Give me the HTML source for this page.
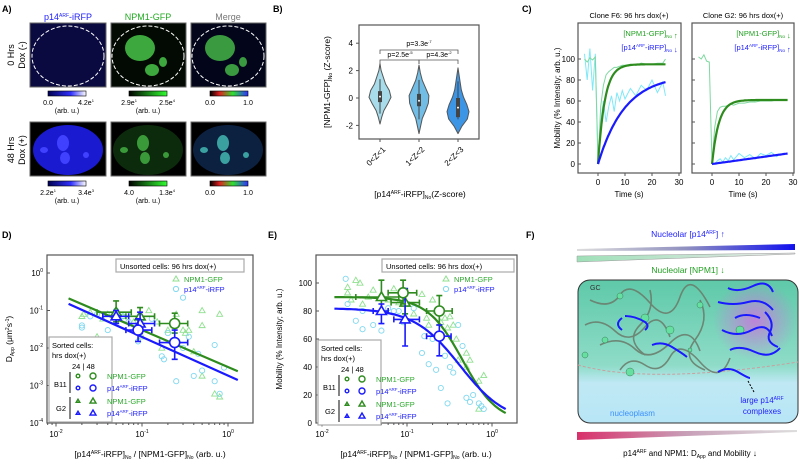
<!DOCTYPE html>
<html><head><meta charset="utf-8"><style>
body{margin:0;background:#fff}
svg{display:block;font-family:"Liberation Sans",Arial,sans-serif}
</style></head><body>
<svg id="fig" width="800" height="464" viewBox="0 0 800 464" xmlns="http://www.w3.org/2000/svg">
<defs>
<linearGradient id="gBlue" x1="0" x2="1"><stop offset="0" stop-color="#000050"/><stop offset="0.6" stop-color="#3030ff"/><stop offset="1" stop-color="#ffffff"/></linearGradient>
<linearGradient id="gGreen" x1="0" x2="1"><stop offset="0" stop-color="#000"/><stop offset="1" stop-color="#30ff30"/></linearGradient>
<linearGradient id="gMerge" x1="0" x2="1"><stop offset="0" stop-color="#000"/><stop offset="0.25" stop-color="#e02020"/><stop offset="0.6" stop-color="#30e030"/><stop offset="1" stop-color="#3030ff"/></linearGradient>
<linearGradient id="gTop" x1="0" x2="1"><stop offset="0" stop-color="#ddd"/><stop offset="0.5" stop-color="#9090c0"/><stop offset="1" stop-color="#1010ee"/></linearGradient>
<linearGradient id="gNpm" x1="0" x2="1"><stop offset="0" stop-color="#9fe0b8"/><stop offset="1" stop-color="#e8e8e8"/></linearGradient>
<linearGradient id="gBot" x1="0" x2="1"><stop offset="0" stop-color="#d8306a"/><stop offset="0.5" stop-color="#c8a0b8"/><stop offset="1" stop-color="#ddd"/></linearGradient>
<linearGradient id="gCell" x1="0" x2="0" y1="0" y2="1"><stop offset="0" stop-color="#5ec9a8"/><stop offset="0.6" stop-color="#8fdcc8"/><stop offset="0.72" stop-color="#bfe8f4"/><stop offset="1" stop-color="#b8e6f6"/></linearGradient>
<radialGradient id="gPink"><stop offset="0" stop-color="#d070e0" stop-opacity="0.8"/><stop offset="1" stop-color="#d070e0" stop-opacity="0"/></radialGradient>
</defs>

<!-- PANEL A -->
<g font-size="8">
<text x="2" y="12" font-weight="bold" font-size="9">A)</text>
<text x="68" y="20" text-anchor="middle" fill="#2222ff" font-size="9">p14<tspan font-size="5" dy="-3">ARF</tspan><tspan dy="3">-iRFP</tspan></text>
<text x="148" y="20" text-anchor="middle" fill="#22aa22" font-size="9">NPM1-GFP</text>
<text x="228" y="20" text-anchor="middle" fill="#777" font-size="9">Merge</text>
<text transform="translate(14,55) rotate(-90)" text-anchor="middle" font-size="9">0 Hrs</text>
<text transform="translate(25,55) rotate(-90)" text-anchor="middle" font-size="9">Dox (-)</text>
<text transform="translate(14,150) rotate(-90)" text-anchor="middle" font-size="9">48 Hrs</text>
<text transform="translate(25,150) rotate(-90)" text-anchor="middle" font-size="9">Dox (+)</text>
<rect x="30" y="23" width="76" height="64" fill="#0a0a40" stroke="#666"/>
<rect x="111" y="23" width="75" height="64" fill="#030a03" stroke="#666"/>
<g fill="#3da83d"><ellipse cx="140" cy="48" rx="15" ry="13"/><ellipse cx="152" cy="70" rx="7" ry="6"/><ellipse cx="163" cy="62" rx="4" ry="5"/></g>
<rect x="191" y="23" width="75" height="64" fill="#03061a" stroke="#666"/>
<g fill="#3a9a40"><ellipse cx="220" cy="48" rx="15" ry="13"/><ellipse cx="232" cy="70" rx="7" ry="6"/><ellipse cx="243" cy="62" rx="4" ry="5"/></g>
<g fill="none" stroke="#fff" stroke-dasharray="4,2" stroke-width="1">
<ellipse cx="68" cy="56" rx="36" ry="30"/><ellipse cx="148" cy="56" rx="36" ry="30"/><ellipse cx="228" cy="56" rx="36" ry="30"/>
<ellipse cx="68" cy="150" rx="36" ry="26"/><ellipse cx="148" cy="150" rx="36" ry="26"/><ellipse cx="228" cy="150" rx="36" ry="26"/></g>
<rect x="30" y="122" width="76" height="54" fill="#000" stroke="#666"/>
<ellipse cx="68" cy="150" rx="35" ry="25" fill="#1a1ad0"/>
<g fill="#4040ff"><ellipse cx="63" cy="143" rx="6" ry="8"/><ellipse cx="44" cy="150" rx="4" ry="3"/><ellipse cx="65" cy="158" rx="5" ry="6"/><ellipse cx="86" cy="155" rx="3" ry="3"/></g>
<rect x="111" y="122" width="75" height="54" fill="#000" stroke="#666"/>
<ellipse cx="148" cy="150" rx="35" ry="25" fill="#0c2a0c"/>
<g fill="#3a9a3a"><ellipse cx="143" cy="143" rx="6" ry="8"/><ellipse cx="124" cy="150" rx="4" ry="3"/><ellipse cx="145" cy="158" rx="5" ry="6"/><ellipse cx="166" cy="155" rx="3" ry="3"/></g>
<rect x="191" y="122" width="75" height="54" fill="#000" stroke="#666"/>
<ellipse cx="228" cy="150" rx="35" ry="25" fill="#0c2040"/>
<g fill="#3aa0a0"><ellipse cx="223" cy="143" rx="6" ry="8"/><ellipse cx="204" cy="150" rx="4" ry="3"/><ellipse cx="225" cy="158" rx="5" ry="6"/><ellipse cx="246" cy="155" rx="3" ry="3"/></g>
<g stroke="#000" stroke-width="0.6">
<rect x="48" y="91" width="38" height="5" fill="url(#gBlue)"/>
<rect x="129" y="91" width="38" height="5" fill="url(#gGreen)"/>
<rect x="210" y="91" width="38" height="5" fill="url(#gMerge)"/>
<rect x="48" y="181" width="38" height="5" fill="url(#gBlue)"/>
<rect x="129" y="181" width="38" height="5" fill="url(#gGreen)"/>
<rect x="210" y="181" width="38" height="5" fill="url(#gMerge)"/></g>
<g font-size="7" text-anchor="middle">
<text x="48" y="105">0.0</text><text x="86" y="105">4.2e<tspan font-size="4" dy="-3">1</tspan></text><text x="67" y="113">(arb. u.)</text>
<text x="129" y="105">2.9e<tspan font-size="4" dy="-3">1</tspan></text><text x="167" y="105">2.5e<tspan font-size="4" dy="-3">4</tspan></text><text x="148" y="113">(arb. u.)</text>
<text x="210" y="105">0.0</text><text x="248" y="105">1.0</text>
<text x="48" y="195">2.2e<tspan font-size="4" dy="-3">1</tspan></text><text x="86" y="195">3.4e<tspan font-size="4" dy="-3">3</tspan></text><text x="67" y="203">(arb. u.)</text>
<text x="129" y="195">4.0</text><text x="167" y="195">1.3e<tspan font-size="4" dy="-3">4</tspan></text><text x="148" y="203">(arb. u.)</text>
<text x="210" y="195">0.0</text><text x="248" y="195">1.0</text></g>
</g>

<!-- PANEL B -->
<g font-size="8">
<text x="273" y="12" font-weight="bold" font-size="9">B)</text>
<rect x="359" y="25" width="120" height="114" fill="none" stroke="#555" stroke-width="1.2"/>
<g id="bTicks"></g><g id="bViolins"></g>
<text transform="translate(330,82) rotate(-90)" text-anchor="middle" font-size="8.5">[NPM1-GFP]<tspan font-size="5" dy="2">No</tspan><tspan dy="-2"> (Z-score)</tspan></text>
<text x="420" y="197" text-anchor="middle" font-size="8.5">[p14<tspan font-size="5" dy="-3">ARF</tspan><tspan dy="3">-iRFP]</tspan><tspan font-size="5" dy="2">No</tspan><tspan dy="-2">(Z-score)</tspan></text>
<g stroke="#555" fill="none" stroke-width="0.8">
<path d="M380,54 V50 H458 V54"/><path d="M380,64 V60 H419 V64"/><path d="M419,64 V60 H458 V64"/></g>
<g font-size="7" text-anchor="middle"><text x="419" y="46">p=3.3e<tspan font-size="4" dy="-3">-7</tspan></text><text x="400" y="57">p=2.5e<tspan font-size="4" dy="-3">-5</tspan></text><text x="439" y="57">p=4.3e<tspan font-size="4" dy="-3">-2</tspan></text></g>
</g>

<!-- PANEL C -->
<g font-size="8">
<text x="522" y="12" font-weight="bold" font-size="9">C)</text>
<text x="629" y="18" text-anchor="middle" font-size="7.5">Clone F6: 96 hrs dox(+)</text>
<text x="743" y="18" text-anchor="middle" font-size="7.5">Clone G2: 96 hrs dox(+)</text>
<rect x="578" y="23" width="103" height="150" fill="none" stroke="#555" stroke-width="1.2"/>
<rect x="692" y="23" width="102" height="150" fill="none" stroke="#555" stroke-width="1.2"/>
<g id="cMarks"></g>
<text transform="translate(560,98) rotate(-90)" text-anchor="middle" font-size="8">Mobility (% Intensity; arb. u.)</text>
<text x="629" y="197" text-anchor="middle" font-size="8">Time (s)</text>
<text x="743" y="197" text-anchor="middle" font-size="8">Time (s)</text>
<g font-size="7.5"><text x="672" y="36" text-anchor="end" fill="#22a022">[NPM1-GFP]<tspan font-size="4.5" dy="2">No</tspan></text><text x="674" y="38" fill="#22a022">↑</text>
<text x="672" y="50" text-anchor="end" fill="#2222ff">[p14<tspan font-size="4.5" dy="-3">ARF</tspan><tspan dy="3">-iRFP]</tspan><tspan font-size="4.5" dy="2">No</tspan></text><text x="674" y="52" fill="#2222ff">↓</text>
<text x="785" y="36" text-anchor="end" fill="#22a022">[NPM1-GFP]<tspan font-size="4.5" dy="2">No</tspan></text><text x="787" y="38" fill="#22a022">↓</text>
<text x="785" y="50" text-anchor="end" fill="#2222ff">[p14<tspan font-size="4.5" dy="-3">ARF</tspan><tspan dy="3">-iRFP]</tspan><tspan font-size="4.5" dy="2">No</tspan></text><text x="787" y="52" fill="#2222ff">↑</text></g>
</g>

<!-- PANEL D & E -->
<g font-size="8">
<text x="2" y="238" font-weight="bold" font-size="9">D)</text>
<rect x="47" y="255" width="206" height="168" fill="none" stroke="#555" stroke-width="1.2"/>
<g id="dMarks"></g>
<text transform="translate(12,339) rotate(-90)" text-anchor="middle" font-size="8.5">D<tspan font-size="5" dy="2">App</tspan><tspan dy="-2"> (μm</tspan><tspan font-size="5" dy="-3">2</tspan><tspan dy="3">s</tspan><tspan font-size="5" dy="-3">-1</tspan><tspan dy="3">)</tspan></text>
<text x="150" y="457" text-anchor="middle" font-size="8.5">[p14<tspan font-size="5" dy="-3">ARF</tspan><tspan dy="3">-iRFP]</tspan><tspan font-size="5" dy="2">No</tspan><tspan dy="-2"> / [NPM1-GFP]</tspan><tspan font-size="5" dy="2">No</tspan><tspan dy="-2"> (arb. u.)</tspan></text>
</g>
<g font-size="8">
<text x="268" y="238" font-weight="bold" font-size="9">E)</text>
<rect x="316" y="255" width="201" height="168" fill="none" stroke="#555" stroke-width="1.2"/>
<g id="eMarks"></g>
<text transform="translate(282,339) rotate(-90)" text-anchor="middle" font-size="8">Mobility (% Intensity; arb. u.)</text>
<text x="416" y="457" text-anchor="middle" font-size="8.5">[p14<tspan font-size="5" dy="-3">ARF</tspan><tspan dy="3">-iRFP]</tspan><tspan font-size="5" dy="2">No</tspan><tspan dy="-2"> / [NPM1-GFP]</tspan><tspan font-size="5" dy="2">No</tspan><tspan dy="-2"> (arb. u.)</tspan></text>
</g>

<!-- PANEL F -->
<g font-size="8">
<text x="526" y="238" font-weight="bold" font-size="9">F)</text>
<text x="688" y="237" text-anchor="middle" fill="#2222ff" font-size="8.5">Nucleolar [p14<tspan font-size="5" dy="-3">ARF</tspan><tspan dy="3">] ↑</tspan></text>
<polygon points="577,249 795,244 795,250 577,251" fill="url(#gTop)"/>
<polygon points="577,256 795,253 795,254 577,262" fill="url(#gNpm)" stroke="#999" stroke-width="0.5"/>
<text x="688" y="273" text-anchor="middle" fill="#22a022" font-size="8.5">Nucleolar [NPM1] ↓</text>
<rect x="578" y="280" width="220" height="143" rx="12" fill="url(#gCell)" stroke="#333" stroke-width="1"/>
<ellipse cx="755" cy="320" rx="42" ry="40" fill="url(#gPink)"/>
<path d="M578,365 Q650,385 798,362" stroke="#c9a0a0" stroke-dasharray="3,2" fill="none"/>
<g stroke="#6a7a6a" stroke-width="1.6" fill="none" opacity="0.85">
<path d="M590,300 q20,10 30,-5 t30,8 t30,-6 t30,10"/><path d="M585,325 q15,-8 30,6 t30,-4 t25,10"/><path d="M600,345 q20,-10 35,4 t35,-6 t30,8"/><path d="M620,370 q10,-15 25,-5 t25,-8 t30,5 t30,-4"/><path d="M700,300 q10,20 -5,40 t10,30"/><path d="M650,290 q5,20 -10,35 t5,30"/></g>
<g fill="#66e0a0" stroke="#3a7a5a" stroke-width="0.5"><circle cx="620" cy="296" r="3"/><circle cx="645" cy="318" r="4"/><circle cx="605" cy="340" r="3"/><circle cx="670" cy="330" r="4"/><circle cx="630" cy="372" r="4"/><circle cx="700" cy="305" r="3"/><circle cx="740" cy="330" r="4"/><circle cx="585" cy="355" r="3"/><circle cx="690" cy="350" r="2"/></g>
<g stroke="#1a1aff" stroke-width="2" fill="none">
<path d="M622,318 q-8,6 0,12 M625,316 q10,0 20,6 q5,4 0,8"/><path d="M652,345 q10,-4 20,2 t15,10"/>
<path d="M728,288 q10,5 25,-2 t20,6"/><path d="M718,302 q15,4 30,0 t25,8"/><path d="M735,318 q10,-6 25,0"/><path d="M722,330 q15,8 30,0 t20,6"/><path d="M730,350 q10,-5 25,2 t25,-4"/><path d="M718,372 q10,-6 20,0 t12,6"/><path d="M765,312 q10,10 5,20 t8,15"/></g>
<line x1="754" y1="392" x2="748" y2="381" stroke="#000" stroke-dasharray="2,1.5"/>
<text x="590" y="290" fill="#333" font-size="7">GC</text>
<text x="610" y="416" fill="#3a90ff" font-size="8">nucleoplasm</text>
<text x="762" y="403" text-anchor="middle" fill="#2222ff" font-size="8">large p14<tspan font-size="5" dy="-3">ARF</tspan></text>
<text x="762" y="414" text-anchor="middle" fill="#2222ff" font-size="8">complexes</text>
<polygon points="577,432 797,430 797,432 577,440" fill="url(#gBot)"/>
<text x="690" y="456" text-anchor="middle" font-size="8">p14<tspan font-size="5" dy="-3">ARF</tspan><tspan dy="3"> and NPM1: D</tspan><tspan font-size="5" dy="2">App</tspan><tspan dy="-2"> and Mobility ↓</tspan></text>
</g>
</svg>
<script>
// ---------- DATA ----------
const bCategories = ["0<Z<1","1<Z<2","2<Z<3"];
const bMedians = [0.1, -0.2, -0.7];
const bQ1 = [-0.3, -0.6, -1.4];
const bQ3 = [0.5, 0.3, 0.0];
const bMin = [-1.9, -2.6, -2.6];
const bMax = [2.5, 2.4, 2.2];
const bYTicks = [4,2,0,-2];
const bDens1 = [0,0.15,0.35,0.7,1.0,0.85,0.5,0.3,0.1,0];
const bDens2 = [0,0.15,0.3,0.6,0.85,0.9,0.6,0.3,0.12,0];
const bDens3 = [0,0.35,0.85,1.0,0.8,0.5,0.3,0.2,0.1,0];
const cTimeRaw = [-5,-4,-3,-2,-1,0,1,2,3,4,5,6,7,8,9,10,12,14,16,18,20,22,24,25];
const cF6GreenRaw = [100,97,101,99,102,0,55,75,85,88,90,92,92,93,94,94,95,94,96,95,95,96,96,100];
const cF6CyanRaw = [105,80,110,70,105,5,40,60,40,55,65,50,68,60,70,62,72,65,75,70,80,68,78,65];
const cG2GreenRaw = [102,100,104,98,97,0,35,50,54,55,55,56,57,56,57,58,58,59,59,60,60,60,61,61];
const cG2CyanRaw = [null,null,null,null,null,2,0,3,5,2,6,3,8,4,7,10,6,9,5,10,8,11,7,10];
const cF6Fit = {green:[95,2.5], blue:[85,10]};
const cG2Fit = {green:[61,2.5], blue:[10,28]};
const cYTicks = [0,20,40,60,80,100];
const cXTicks = [0,10,20,30];
const dGreenX = [0.02,0.021,0.025,0.03,0.035,0.04,0.05,0.06,0.08,0.1,0.12,0.15,0.17,0.2,0.25,0.3,0.32,0.35,0.4,0.5,0.5,0.8,0.5,0.7,0.8,0.22];
const dGreenY = [0.07,0.08,0.09,0.02,0.06,0.08,0.1,0.07,0.05,0.02,0.1,0.05,0.01,0.03,0.08,0.03,0.025,0.03,0.008,0.1,0.04,0.08,0.0018,0.0006,0.0005,0.015];
const dBlueX = [0.02,0.02,0.025,0.03,0.04,0.05,0.06,0.07,0.09,0.1,0.13,0.17,0.18,0.2,0.25,0.3,0.3,0.35,0.4,0.45,0.5,0.7,0.7,0.8,0.9];
const dBlueY = [0.04,0.035,0.07,0.08,0.03,0.1,0.07,0.05,0.015,0.06,0.06,0.006,0.005,0.025,0.0013,0.22,0.01,0.02,0.0018,0.007,0.0025,0.012,0.0013,0.0006,0.003];
const dFitGreen = [0.21,0.014,0.0024,1.3];
const dFitBlue = [0.15,0.014,0.0014,1.3];
const dMeanGreenCirc = [[0.24,0.045,0.16,0.34,0.025,0.085]];
const dMeanBlueCirc = [[0.09,0.03,0.065,0.13,0.015,0.06],[0.24,0.014,0.16,0.34,0.005,0.03]];
const dMeanGreenTri = [[0.05,0.09,0.03,0.075,0.05,0.18],[0.095,0.07,0.065,0.14,0.04,0.12]];
const dMeanBlueTri = [[0.05,0.07,0.035,0.07,0.045,0.1],[0.095,0.045,0.07,0.14,0.025,0.09]];
const dYTicks = [0,-1,-2,-3,-4];
const dXTicks = [-2,-1,0];
const eGreenX = [0.02,0.02,0.022,0.025,0.028,0.03,0.035,0.04,0.05,0.06,0.07,0.08,0.1,0.12,0.15,0.17,0.18,0.2,0.22,0.25,0.28,0.3,0.32,0.35,0.38,0.4,0.5,0.5,0.55,0.7,0.7,0.8];
const eGreenY = [93,97,88,102,100,85,90,95,92,88,96,86,85,78,92,75,70,88,80,72,75,68,76,70,60,45,50,40,45,30,10,34];
const eBlueX = [0.019,0.02,0.025,0.03,0.03,0.04,0.05,0.06,0.07,0.08,0.09,0.1,0.12,0.15,0.16,0.18,0.2,0.22,0.25,0.28,0.3,0.32,0.35,0.4,0.45,0.5,0.55,0.6,0.7,0.75,0.8];
const eBlueY = [103,85,73,80,67,70,66,82,80,80,72,85,82,50,62,42,60,38,25,48,14,40,36,70,55,18,15,20,14,12,10];
const eFitGreen = [90,0.45,2.1];
const eFitBlue = [82,0.42,1.6];
const eMeanGreenCirc = [[0.09,93,0.06,0.13,85,102],[0.24,80,0.17,0.34,70,91]];
const eMeanBlueCirc = [[0.24,62,0.17,0.33,48,70]];
const eMeanGreenTri = [[0.05,90,0.025,0.08,78,102],[0.095,86,0.065,0.14,78,95]];
const eMeanBlueTri = [[0.05,80,0.04,0.06,71,85],[0.095,74,0.07,0.14,55,96]];
const eYTicks = [0,20,40,60,80,100];

const NS="http://www.w3.org/2000/svg";
function mk(tag,attrs,parent){const e=document.createElementNS(NS,tag);for(const k in attrs)e.setAttribute(k,attrs[k]);parent.appendChild(e);return e;}
const lg=Math.log10;

// ---------- B ----------
const bY=v=>98-13.7*v, bX=i=>380+39*i;
const bt=document.getElementById('bTicks');
bYTicks.forEach(t=>{mk('line',{x1:356,x2:359,y1:bY(t),y2:bY(t),stroke:'#555'},bt);const tx=mk('text',{x:353,y:bY(t)+3,'text-anchor':'end','font-size':8},bt);tx.textContent=t;

});
const bv=document.getElementById('bViolins');
const bDens=[bDens1,bDens2,bDens3], bFill=['#a8dcea','#72bde6','#3d95e6'];
bCategories.forEach((c,i)=>{
  const d=bDens[i],n=d.length,cx=bX(i),maxW=11;
  let ptsR=[],ptsL=[];
  for(let k=0;k<n;k++){const v=bMin[i]+(bMax[i]-bMin[i])*k/(n-1);ptsR.push((cx+d[k]*maxW)+','+bY(v));ptsL.unshift((cx-d[k]*maxW)+','+bY(v));}
  const p=mk('polygon',{points:ptsR.concat(ptsL).join(' '),fill:bFill[i],stroke:'#555','stroke-width':1,'stroke-linejoin':'round'},bv);
  
  
  mk('line',{x1:cx,x2:cx,y1:bY(bMax[i]*0.55),y2:bY(bMin[i]*0.6),stroke:'#444','stroke-width':1},bv);
  mk('rect',{x:cx-2,y:bY(bQ3[i]),width:4,height:bY(bQ1[i])-bY(bQ3[i]),fill:'#444'},bv);
  mk('circle',{cx:cx,cy:bY(bMedians[i]),r:1,fill:'#fff'},bv);
  mk('line',{x1:cx,x2:cx,y1:139,y2:142,stroke:'#555'},bv);
  const t=mk('text',{transform:`translate(${cx+6},150) rotate(-45)`,'text-anchor':'end','font-size':8},bv);t.textContent=c;
  
  
});

// ---------- C ----------
const cm=document.getElementById('cMarks');
const cY=v=>164-1.05*v;
function cPanel(x0,gRaw,cRaw,fit,tEnd,showY,linBlue){
  const cX=t=>x0+2.7*t;
  const left=x0-20;
  cYTicks.forEach(t=>{mk('line',{x1:left,x2:left+3,y1:cY(t),y2:cY(t),stroke:'#555'},cm);
    if(showY){const tx=mk('text',{x:left-3,y:cY(t)+3,'text-anchor':'end','font-size':8},cm);tx.textContent=t;
    
    }});
  cXTicks.forEach(t=>{mk('line',{x1:cX(t),x2:cX(t),y1:173,y2:176,stroke:'#555'},cm);const tx=mk('text',{x:cX(t),y:185,'text-anchor':'middle','font-size':8},cm);tx.textContent=t;
    
    });
  const line=(arr,col,w,nm)=>{let d='';arr.forEach((v,k)=>{if(v===null)return;d+=(d?'L':'M')+cX(cTimeRaw[k]).toFixed(1)+','+cY(v).toFixed(1);});
    const p=mk('path',{d:d,fill:'none',stroke:col,'stroke-width':w},cm);
    
    };
  line(cRaw,'#7ee8f8',1,'raw-p14-trace');
  line(gRaw,'#7ed8a0',1,'raw-npm1-trace');
  const fitLine=(pr,col,nm,lin)=>{let d='';for(let k=0;k<=60;k++){const t=tEnd*k/60;const v=lin?pr[0]*t/pr[1]:pr[0]*(1-Math.exp(-t/pr[1]));d+=(k?'L':'M')+cX(t).toFixed(1)+','+cY(v).toFixed(1);}
    const p=mk('path',{d:d,fill:'none',stroke:col,'stroke-width':2.2},cm);
    
    };
  fitLine(fit.green,'#2e8b1e','fit-npm1',false);
  fitLine(fit.blue,'#1a1aff','fit-p14',linBlue);
}
cPanel(598,cF6GreenRaw,cF6CyanRaw,cF6Fit,25,true,false);
cPanel(712,cG2GreenRaw,cG2CyanRaw,cG2Fit,28,false,true);

// ---------- shared ----------
function logAxes(g,xf,yTickVals,yf,yLog,x0,yBot,xMax){
  yTickVals.forEach(t=>{const y=yLog?yf(Math.pow(10,t)):yf(t);mk('line',{x1:x0,x2:x0+3,y1:y,y2:y,stroke:'#555'},g);
    const tx=mk('text',{x:x0-4,y:y+3,'text-anchor':'end','font-size':8},g);
    if(yLog){tx.textContent='10';const s=mk('tspan',{'font-size':5,dy:-4},tx);s.textContent=t;}else tx.textContent=t;
    
    });
  dXTicks.forEach(t=>{const x=xf(Math.pow(10,t));mk('line',{x1:x,x2:x,y1:yBot,y2:yBot+3.5,stroke:'#555'},g);
    const tx=mk('text',{x:x,y:yBot+14,'text-anchor':'middle','font-size':8},g);tx.textContent='10';const s=mk('tspan',{'font-size':5,dy:-4},tx);s.textContent=t;
    
    
    for(let m=2;m<10;m++){const xm=xf(m*Math.pow(10,t));if(xm>x0&&xm<xMax)mk('line',{x1:xm,x2:xm,y1:yBot,y2:yBot+2,stroke:'#555'},g);}});
  [2,3,4,5,6,7,8,9].forEach(m=>{const xm=xf(m*0.001);if(xm>x0)mk('line',{x1:xm,x2:xm,y1:yBot,y2:yBot+2,stroke:'#555'},g);});
}
function scatter(g,xs,ys,xf,yf,shape,col,nm){
  xs.forEach((x,i)=>{const px=xf(x),py=yf(ys[i]);let e;
    if(shape==='c')e=mk('circle',{cx:px,cy:py,r:2.6,fill:'none',stroke:col,'stroke-width':0.9},g);
    else e=mk('polygon',{points:`${px},${py-3} ${px-3},${py+2.2} ${px+3},${py+2.2}`,fill:'none',stroke:col,'stroke-width':0.9},g);
    
    });
}
function means(g,arr,xf,yf,shape,col,nm){
  arr.forEach(m=>{const px=xf(m[0]),py=yf(m[1]);
    mk('path',{d:`M${xf(m[2])},${py}H${xf(m[3])}M${xf(m[2])},${py-3}v6M${xf(m[3])},${py-3}v6M${px},${yf(m[4])}V${yf(m[5])}M${px-3},${yf(m[4])}h6M${px-3},${yf(m[5])}h6`,stroke:col,'stroke-width':1.6,fill:'none'},g);
    let e;
    if(shape==='c')e=mk('circle',{cx:px,cy:py,r:5,fill:'#fff',stroke:col,'stroke-width':1.6},g);
    else e=mk('polygon',{points:`${px},${py-5} ${px-5},${py+3.5} ${px+5},${py+3.5}`,fill:'#fff',stroke:col,'stroke-width':1.6},g);
    
    });
}
function legendUnsorted(g,x,y,w){
  mk('rect',{x:x,y:y,width:w,height:13,fill:'#fff',stroke:'#aaa','stroke-width':1.2},g);
  const t=mk('text',{x:x+4,y:y+10,'font-size':7.5},g);t.textContent='Unsorted cells: 96 hrs dox(+)';
  mk('polygon',{points:`${x+w-68},${y+17} ${x+w-71},${y+22} ${x+w-65},${y+22}`,fill:'none',stroke:'#8fe08f'},g);
  const a=mk('text',{x:x+w-60,y:y+23,'font-size':7.5,fill:'#2ea82e'},g);a.textContent='NPM1-GFP';
  mk('circle',{cx:x+w-68,cy:y+30,r:2.6,fill:'none',stroke:'#7fd8f0'},g);
  const b=mk('text',{x:x+w-60,y:y+33,'font-size':7.5,fill:'#2222ff'},g);b.textContent='p14';const s=mk('tspan',{'font-size':4.5,dy:-3},b);s.textContent='ARF';const s2=mk('tspan',{dy:3},b);s2.textContent='-iRFP';
}
function legendSorted(g,x,y){
  mk('rect',{x:x,y:y,width:63,height:85,fill:'#fff',stroke:'#aaa','stroke-width':1.2},g);
  const l1=mk('text',{x:x+3,y:y+11,'font-size':7.5},g);l1.textContent='Sorted cells:';
  const l2=mk('text',{x:x+3,y:y+21,'font-size':7.5},g);l2.textContent='hrs dox(+)';
  const l3=mk('text',{x:x+23,y:y+32,'font-size':7.5},g);l3.textContent='24 | 48';
  const rows=[['c','#2e8b1e','NPM1-GFP'],['c','#1a1aff','p14ARF-iRFP'],['t','#2e8b1e','NPM1-GFP'],['t','#1a1aff','p14ARF-iRFP']];
  rows.forEach((r,i)=>{const yy=y+42+i*12+(i>1?1:0);
    [[x+29,1.8],[x+44,3]].forEach(([cx,rr])=>{if(r[0]==='c')mk('circle',{cx:cx,cy:yy-3,r:rr,fill:'none',stroke:r[1],'stroke-width':1.4},g);
      else mk('polygon',{points:`${cx},${yy-3-rr} ${cx-rr},${yy-3+rr*0.7} ${cx+rr},${yy-3+rr*0.7}`,fill:'none',stroke:r[1],'stroke-width':1.4},g);});
    const t=mk('text',{x:x+58,y:yy,'font-size':7.5,fill:r[1]==='#2e8b1e'?'#2ea82e':'#2222ff'},g);
    if(r[2].startsWith('p14')){t.textContent='p14';const s=mk('tspan',{'font-size':4.5,dy:-3},t);s.textContent='ARF';const s2=mk('tspan',{dy:3},t);s2.textContent='-iRFP';}else t.textContent=r[2];});
  const b=mk('text',{x:x+5,y:y+50,'font-size':7.5},g);b.textContent='B11';
  const c=mk('text',{x:x+7,y:y+74,'font-size':7.5},g);c.textContent='G2';
  mk('line',{x1:x+21,x2:x+21,y1:y+35,y2:y+56,stroke:'#333','stroke-width':1.2},g);
  mk('line',{x1:x+21,x2:x+21,y1:y+60,y2:y+82,stroke:'#333','stroke-width':1.2},g);
}

// ---------- D ----------
const dm=document.getElementById('dMarks');
const dX=v=>56+86*lg(v/0.01), dY=v=>273-37.5*lg(v);
logAxes(dm,dX,dYTicks,dY,true,47,423,253);
scatter(dm,dGreenX,dGreenY,dX,dY,'t','#8fe08f','d-npm1-point');
scatter(dm,dBlueX,dBlueY,dX,dY,'c','#7fd8f0','d-p14-point');
[[dFitGreen,'#2e8b1e','d-fit-npm1'],[dFitBlue,'#1a1aff','d-fit-p14']].forEach(([f,c,nm])=>{
  const p=mk('line',{x1:dX(f[1]),y1:dY(f[0]),x2:dX(f[3]),y2:dY(f[2]),stroke:c,'stroke-width':2.2},dm);
  
  });
means(dm,dMeanGreenTri,dX,dY,'t','#2e8b1e','d-mean-npm1-g2');
means(dm,dMeanBlueTri,dX,dY,'t','#1a1aff','d-mean-p14-g2');
means(dm,dMeanGreenCirc,dX,dY,'c','#2e8b1e','d-mean-npm1-b11');
means(dm,dMeanBlueCirc,dX,dY,'c','#1a1aff','d-mean-p14-b11');
legendUnsorted(dm,116,259,128);
legendSorted(dm,49,337);

// ---------- E ----------
const em=document.getElementById('eMarks');
const eX=v=>322+85*lg(v/0.01), eY=v=>423-1.4*v;
logAxes(em,eX,eYTicks,eY,false,316,423,517);
scatter(em,eGreenX,eGreenY,eX,eY,'t','#8fe08f','e-npm1-point');
scatter(em,eBlueX,eBlueY,eX,eY,'c','#7fd8f0','e-p14-point');
[[eFitGreen,'#2e8b1e','e-fit-npm1'],[eFitBlue,'#1a1aff','e-fit-p14']].forEach(([f,c,nm])=>{
  let d='';for(let k=0;k<=80;k++){const x=Math.pow(10,lg(0.014)+(lg(1.45)-lg(0.014))*k/80);const v=f[0]/(1+Math.pow(x/f[1],f[2]));d+=(k?'L':'M')+eX(x).toFixed(1)+','+eY(v).toFixed(1);}
  const p=mk('path',{d:d,fill:'none',stroke:c,'stroke-width':2.2},em);
  
  });
means(em,eMeanGreenTri,eX,eY,'t','#2e8b1e','e-mean-npm1-g2');
means(em,eMeanBlueTri,eX,eY,'t','#1a1aff','e-mean-p14-g2');
means(em,eMeanGreenCirc,eX,eY,'c','#2e8b1e','e-mean-npm1-b11');
means(em,eMeanBlueCirc,eX,eY,'c','#1a1aff','e-mean-p14-b11');
legendUnsorted(em,382,259,132);
legendSorted(em,318,340);
</script>
</body></html>
